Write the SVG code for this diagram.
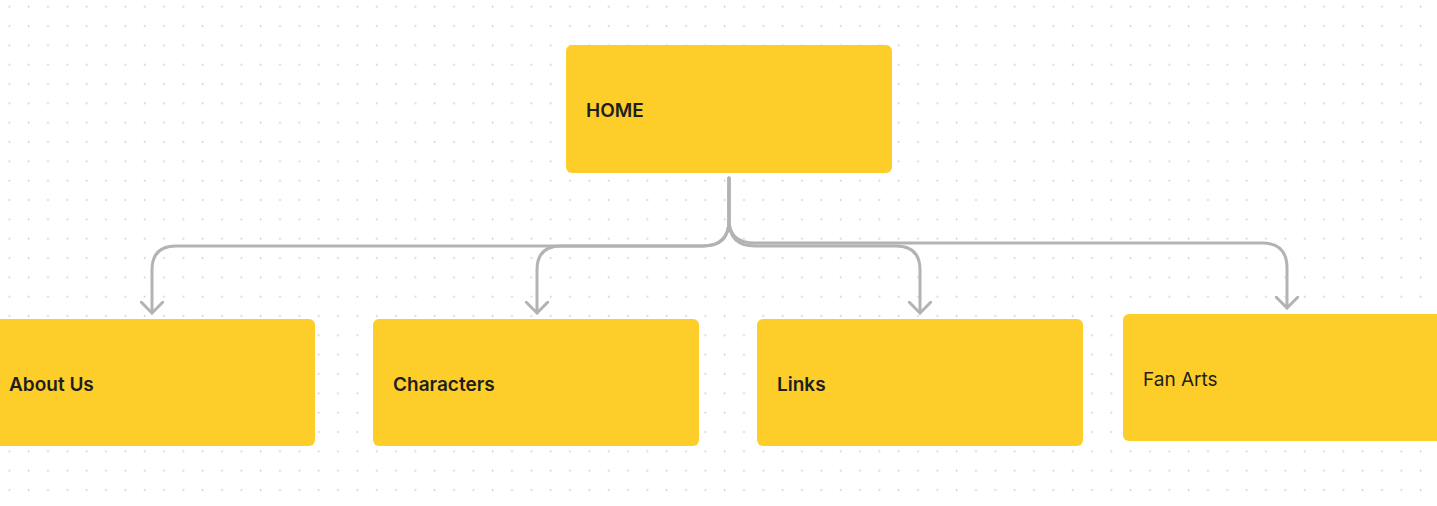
<svg xmlns="http://www.w3.org/2000/svg" width="1437" height="506" viewBox="0 0 1437 506">
<defs>
<pattern id="dots" patternUnits="userSpaceOnUse" x="0" y="0" width="19.333" height="19.333">
<circle cx="9.33" cy="6.67" r="1" fill="#d6d6d6"/>
</pattern>
<marker id="arr" viewBox="-12 -12 24 24" markerWidth="24" markerHeight="24" refX="0" refY="0" orient="auto" markerUnits="userSpaceOnUse">
<path d="M-11,-11 L0,0 L-11,11" fill="none" stroke="#b3b3b3" stroke-width="3" stroke-linecap="round" stroke-linejoin="round"/>
</marker>
<style>
.box{fill:#FDCD2A;}
.lbl{font-family:Inter,"Noto Sans",sans-serif;font-size:19px;fill:#1e1e1e;}
.b{font-weight:600;}
.con{fill:none;stroke:#b3b3b3;stroke-width:3;stroke-linecap:round;}
</style>
</defs>
<rect width="1437" height="506" fill="#ffffff"/>
<rect width="1437" height="506" fill="url(#dots)"/>
<g id="connectors">
<path class="con" d="M729,178 V220 Q729,246 703,246 H176 Q152,246 152,270 V313" marker-end="url(#arr)"/>
<path class="con" d="M729,178 V220 Q729,246 703,246 H561 Q537,246 537,270 V313" marker-end="url(#arr)"/>
<path class="con" d="M729,178 V220 Q729,246 755,246 H896 Q920,246 920,270 V313" marker-end="url(#arr)"/>
<path class="con" d="M729,178 V220 Q729,243 755,243 H1262 Q1287,243 1287,268 V308" marker-end="url(#arr)"/>
</g>
<g id="home">
<rect class="box" x="566" y="45" width="326" height="128" rx="6"/>
<text class="lbl b" x="586" y="117">HOME</text>
</g>
<g id="about">
<rect class="box" x="-11" y="319" width="326" height="127" rx="6"/>
<text class="lbl b" x="9" y="391">About Us</text>
</g>
<g id="characters">
<rect class="box" x="373" y="319" width="326" height="127" rx="6"/>
<text class="lbl b" x="393" y="391">Characters</text>
</g>
<g id="links">
<rect class="box" x="757" y="319" width="326" height="127" rx="6"/>
<text class="lbl b" x="777" y="391">Links</text>
</g>
<g id="fanarts">
<rect class="box" x="1123" y="314" width="326" height="127" rx="6"/>
<text class="lbl" x="1143" y="386">Fan Arts</text>
</g>
</svg>
